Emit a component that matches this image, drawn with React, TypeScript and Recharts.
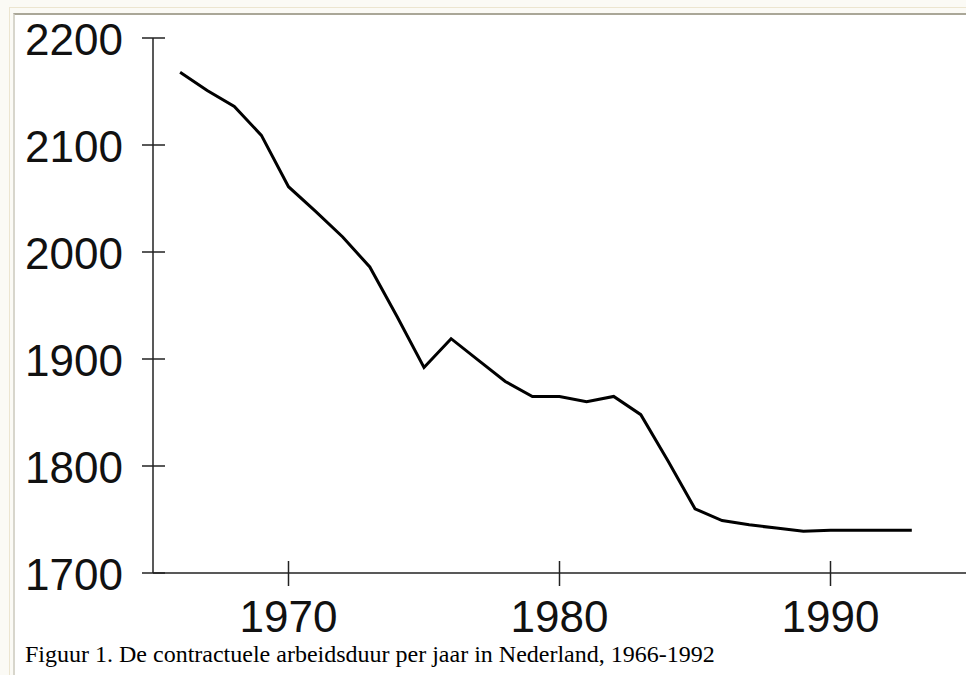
import React from "react";
import { LineChart, Line, XAxis, YAxis } from "recharts";

const years = [
  1966, 1967, 1968, 1969, 1970, 1971, 1972, 1973, 1974, 1975, 1976, 1977, 1978, 1979,
  1980, 1981, 1982, 1983, 1984, 1985, 1986, 1987, 1988, 1989, 1990, 1991, 1992, 1993,
];
const hours = [
  2168, 2151, 2136, 2109, 2061, 2038, 2014, 1986, 1940, 1892, 1919, 1899, 1879, 1865,
  1865, 1860, 1865, 1848, 1805, 1760, 1749, 1745, 1742, 1739, 1740, 1740, 1740, 1740,
];
const yTicks = [1700, 1800, 1900, 2000, 2100, 2200];
const xTicks = [1970, 1980, 1990];
const caption = "Figuur 1. De contractuele arbeidsduur per jaar in Nederland, 1966-1992";

const data = years.map((year, i) => ({ year, hours: hours[i] }));

const AXIS = "#222";
const LABEL_FONT = '"Liberation Sans", Arial, Helvetica, sans-serif';

// y tick: line crosses the axis, label to the left
const YTick = (props: any) => {
  const { x, y, payload } = props;
  const ax = x + 30;
  return (
    <g>
      <line x1={ax - 11} x2={ax + 12} y1={y} y2={y} stroke={AXIS} strokeWidth={1.5} />
      <text x={x} y={y + 17} textAnchor="end" fontSize={44} fontFamily={LABEL_FONT} fill="#111">
        {payload.value}
      </text>
    </g>
  );
};

const XTick = (props: any) => {
  const { x, y, payload } = props;
  return (
    <g>
      <line x1={x} x2={x} y1={y - 12} y2={y + 13} stroke={AXIS} strokeWidth={1.5} />
      <text x={x} y={y + 59} textAnchor="middle" fontSize={44} fontFamily={LABEL_FONT} fill="#111">
        {payload.value}
      </text>
    </g>
  );
};

export default function App() {
  return (
    <div
      style={{
        position: "fixed",
        left: 0,
        top: 0,
        width: 966,
        height: 675,
        overflow: "hidden",
        background: "#fbfaf5",
      }}
    >
      {/* page frame */}
      <div
        style={{
          position: "absolute",
          left: 9,
          top: 7,
          width: 980,
          height: 700,
          borderTop: "1px solid #ece5d0",
          borderLeft: "1px solid #ece5d0",
        }}
      />
      <div
        style={{
          position: "absolute",
          left: 13,
          top: 13,
          width: 980,
          height: 700,
          background: "#fff",
          borderTop: "2px solid #aaa798",
          borderLeft: "2px solid #d8d6cc",
        }}
      />

      <div style={{ position: "absolute", left: 0, top: 0 }}>
        <LineChart
          width={966}
          height={675}
          data={data}
          margin={{ top: 38, left: 93, right: 0, bottom: 42 }}
        >
          <XAxis
            dataKey="year"
            type="number"
            domain={[1965, 1995]}
            ticks={xTicks}
            height={60}
            tickSize={0}
            tickMargin={0}
            tickLine={false}
            axisLine={{ stroke: AXIS, strokeWidth: 1.5 }}
            tick={<XTick />}
            allowDataOverflow
          />
          <YAxis
            type="number"
            domain={[1700, 2200]}
            ticks={yTicks}
            width={60}
            tickSize={0}
            tickMargin={30}
            tickLine={false}
            axisLine={{ stroke: AXIS, strokeWidth: 1.5 }}
            tick={<YTick />}
            allowDataOverflow
          />
          <Line
            type="linear"
            dataKey="hours"
            stroke="#000"
            strokeWidth={3}
            dot={false}
            isAnimationActive={false}
          />
        </LineChart>
      </div>

      <div
        style={{
          position: "absolute",
          left: 25,
          top: 641,
          fontFamily: '"Liberation Serif", "Times New Roman", serif',
          fontSize: 24,
          color: "#000",
          whiteSpace: "nowrap",
        }}
      >
        {caption}
      </div>
    </div>
  );
}
